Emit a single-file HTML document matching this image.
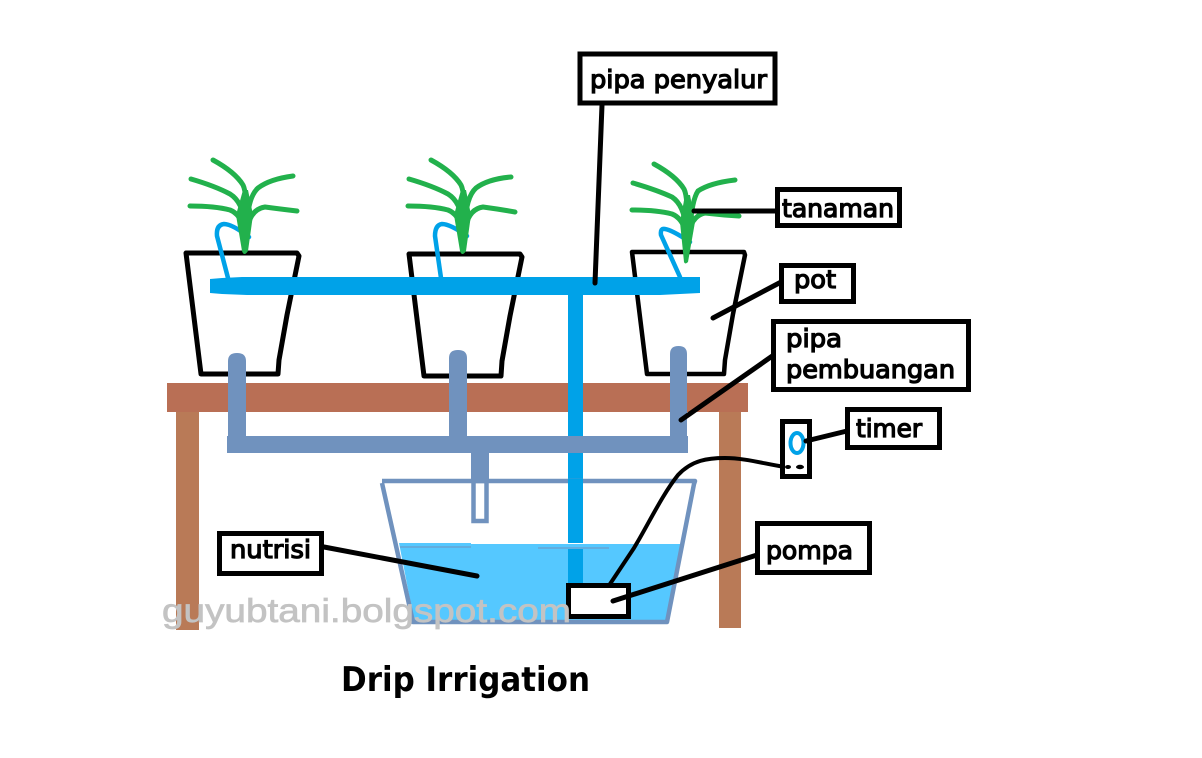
<!DOCTYPE html>
<html>
<head>
<meta charset="utf-8">
<style>
html,body{margin:0;padding:0;background:#fff;}
svg{display:block;}
.l{font-family:"DejaVu Sans",sans-serif;font-size:25px;fill:#000;stroke:#000;stroke-width:1.3px;}
.box{fill:#fff;stroke:#000;stroke-width:5;}
.k{fill:none;stroke:#000;stroke-linecap:round;stroke-linejoin:round;}
.g{fill:none;stroke:#22B14C;stroke-width:5;stroke-linecap:round;stroke-linejoin:round;}
.d{fill:none;stroke:#00A2E8;stroke-width:4.5;stroke-linecap:round;stroke-linejoin:round;}
</style>
</head>
<body>
<svg width="1202" height="758" viewBox="0 0 1202 758" xmlns="http://www.w3.org/2000/svg">
<rect width="1202" height="758" fill="#fff"/>

<!-- pots -->
<path class="k" stroke-width="5" d="M186 253H297L299 256L287 315L279 360L278 374H201Z"/>
<path class="k" stroke-width="5" d="M409 254H520L522 257L510 316L502 361L501 376H424Z"/>
<path class="k" stroke-width="4.5" d="M632 252H744L745 255L733 314L725 360L724 374H647Z"/>

<!-- drip tubes -->
<path class="d" d="M228 278L217 236Q216 225 224 224Q232 224 249 237"/>
<path class="d" d="M441 278L435 236Q435 225 442 224Q450 224 467 236"/>
<path class="d" stroke-width="3.5" d="M680 277L661 235Q660 228 665 229Q672 230 690 242"/>

<!-- plants -->
<g>
<path class="g" d="M213 160Q235 172 243 185Q247 193 246 225"/>
<path class="g" d="M191 179Q215 186 230 194Q243 202 245 225"/>
<path class="g" d="M190 206Q215 206 230 210Q240 214 244 228"/>
<path class="g" d="M293 176Q270 179 258 188Q248 197 247 225"/>
<path class="g" d="M297 211Q280 209 265 207Q252 209 248 225"/>
<path d="M243 190H248L253 215L248 251Q244 257 242 251L236 215Z" fill="#22B14C"/>
</g>
<g>
<path class="g" d="M431 160Q453 172 461 185Q465 193 464 225"/>
<path class="g" d="M409 179Q433 186 448 194Q461 202 463 225"/>
<path class="g" d="M408 206Q433 206 448 210Q458 214 462 228"/>
<path class="g" d="M511 177Q488 179 476 188Q466 197 465 225"/>
<path class="g" d="M515 212Q498 209 483 207Q470 209 466 225"/>
<path d="M461 190H466L471 215L466 251Q462 257 460 251L454 215Z" fill="#22B14C"/>
</g>
<g>
<path class="g" stroke-width="4.5" d="M654 164Q676 176 684 189Q688 197 687 228"/>
<path class="g" stroke-width="4.5" d="M633 183Q657 190 672 197Q684 205 686 228"/>
<path class="g" stroke-width="4.5" d="M632 210Q657 210 672 214Q682 218 686 232"/>
<path class="g" stroke-width="4.5" d="M735 180Q710 183 698 191Q692 200 690 228"/>
<path class="g" stroke-width="4.5" d="M739 216Q722 215 705 213Q694 215 689 230"/>
<path d="M685 195H690L695 222L688 262Q685 265 684 262L680 222Z" fill="#22B14C"/>
</g>

<!-- table -->
<rect x="176" y="412" width="23" height="218" fill="#B97A57"/>
<rect x="719" y="410" width="22" height="218" fill="#B97A57"/>
<rect x="167" y="383" width="581" height="29" fill="#B96F55"/>

<!-- feed pipe -->
<rect x="568" y="290" width="15" height="253" fill="#00A2E8"/>
<path d="M210 279L222 278L242 277H700V293L660 295H247L222 294L210 293Z" fill="#00A2E8"/>

<!-- drain pipes -->
<g fill="#7092BE">
<path d="M228 436V361Q228 353 237 353Q246 353 246 361V436Z"/>
<path d="M449 436V358Q449 350 458 350Q467 350 467 358V436Z"/>
<path d="M670 436V354Q670 346 678.500 346Q687 346 687 354V436Z"/>
<rect x="227" y="436" width="461" height="17"/>
<rect x="471" y="453" width="18" height="28"/>
</g>
<rect x="473.500" y="481" width="13" height="40" fill="#fff" stroke="#7092BE" stroke-width="4.500"/>

<!-- bucket -->
<path d="M399 543H471V544H681L666 620H414Z" fill="#55C8FF"/>
<rect x="568" y="549" width="15" height="36" fill="#00A2E8"/>
<path d="M400 547H471M538 548H609" stroke="#7092BE" stroke-width="1" fill="none"/>
<path d="M382 481H695L694 484L667 622H413L382 483" fill="none" stroke="#7092BE" stroke-width="4.500" stroke-linejoin="round"/>
<rect x="568" y="479" width="15" height="5" fill="#00A2E8"/>

<!-- wire -->
<path class="k" stroke-width="4" d="M610 584L634 548C648 525 662 495 678 475C692 460 708 458 725 458C745 458 765 464 785 467"/>

<!-- pump -->
<rect x="568.500" y="585.500" width="60" height="31" fill="#fff" stroke="#000" stroke-width="5"/>

<!-- timer -->
<rect x="782.500" y="421.500" width="27" height="55" fill="#fff" stroke="#000" stroke-width="5"/>
<ellipse cx="797" cy="443" rx="6.500" ry="10" fill="#fff" stroke="#00A2E8" stroke-width="4"/>
<ellipse cx="788" cy="467" rx="3" ry="2" fill="#000"/>
<ellipse cx="800" cy="467" rx="4" ry="2.200" fill="#000"/>

<!-- leader lines -->
<g class="k" stroke-width="5">
<path d="M602 105L595 283"/>
<path d="M694 211H777"/>
<path d="M713 318L783 281"/>
<path d="M681 420L778 352"/>
<path d="M806 441L847 431"/>
<path d="M613 601L757 555"/>
<path d="M324 547L477 576"/>
</g>

<!-- labels -->
<rect x="580" y="54" width="195" height="49" class="box"/>
<text class="l" x="590" y="88" textLength="177" lengthAdjust="spacingAndGlyphs">pipa penyalur</text>

<rect x="777.500" y="189.500" width="122" height="36" class="box"/>
<text class="l" x="782" y="217" textLength="112" lengthAdjust="spacingAndGlyphs">tanaman</text>

<rect x="781.500" y="265.500" width="72" height="36" class="box"/>
<text class="l" x="794" y="288" textLength="42" lengthAdjust="spacingAndGlyphs">pot</text>

<rect x="773.500" y="321.500" width="195" height="68" class="box"/>
<text class="l" x="786" y="347" textLength="56" lengthAdjust="spacingAndGlyphs">pipa</text>
<text class="l" x="786" y="378" textLength="169" lengthAdjust="spacingAndGlyphs">pembuangan</text>

<rect x="847.500" y="409.500" width="92" height="38" class="box"/>
<text class="l" x="856" y="437" textLength="66" lengthAdjust="spacingAndGlyphs">timer</text>

<rect x="757.500" y="523.500" width="112" height="49" class="box"/>
<text class="l" x="766" y="559" textLength="87" lengthAdjust="spacingAndGlyphs">pompa</text>

<rect x="219.500" y="533.500" width="102" height="40" class="box"/>
<text class="l" x="230" y="558" textLength="81" lengthAdjust="spacingAndGlyphs">nutrisi</text>

<text x="341" y="691" font-family="'DejaVu Sans',sans-serif" font-weight="bold" font-size="34" fill="#000" textLength="249" lengthAdjust="spacingAndGlyphs">Drip Irrigation</text>

<!-- watermark -->
<text x="162" y="622" font-family="'Liberation Sans',sans-serif" font-size="33" fill="#C3C3C3" stroke="#C3C3C3" stroke-width="0.700" textLength="409" lengthAdjust="spacingAndGlyphs">guyubtani.bolgspot.com</text>
</svg>
</body>
</html>
